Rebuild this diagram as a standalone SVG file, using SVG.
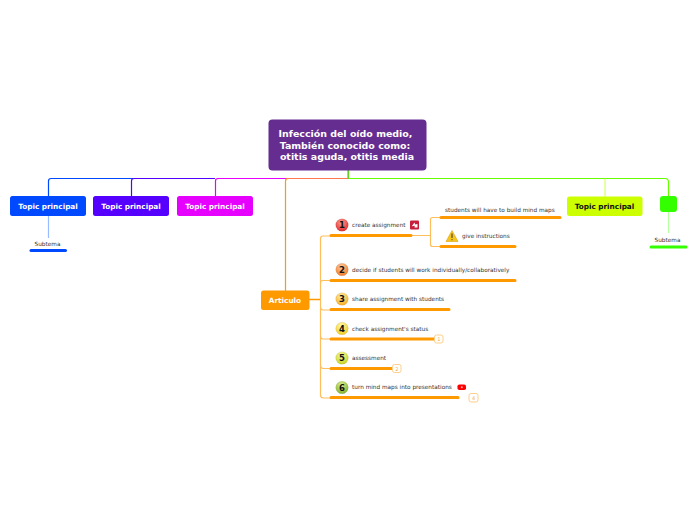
<svg xmlns="http://www.w3.org/2000/svg" width="696" height="520" viewBox="0 0 696 520">
<style>
text{font-family:"DejaVu Sans",Verdana,sans-serif}
.t{font-size:7.300px;font-weight:700;fill:#fff;text-anchor:middle}
.s{font-size:5.760px;fill:#333}
.n{font-size:8.500px;font-weight:700;fill:#111;text-anchor:middle}
.b{font-size:5px;fill:#f0b050;text-anchor:middle}
.c{fill:none;stroke-width:1.200}
.u{stroke-width:3;stroke-linecap:round;fill:none}
.o{stroke:#ff9900}
.lo{stroke:#ffbe5c}
.bd{fill:#fff;stroke:#ffcf8a;stroke-width:1}
.ci{stroke:#0000001f;stroke-width:.5}
</style>
<defs>
<radialGradient id="g1" cx=".45" cy=".3" r=".75"><stop offset="0" stop-color="#ff9c8c"/><stop offset="1" stop-color="#e0242a"/></radialGradient>
<radialGradient id="g2" cx=".45" cy=".3" r=".75"><stop offset="0" stop-color="#ffcaa0"/><stop offset="1" stop-color="#f0761c"/></radialGradient>
<radialGradient id="g3" cx=".45" cy=".3" r=".75"><stop offset="0" stop-color="#fff0a8"/><stop offset="1" stop-color="#f7a81a"/></radialGradient>
<radialGradient id="g4" cx=".45" cy=".3" r=".75"><stop offset="0" stop-color="#fffab0"/><stop offset="1" stop-color="#f0c814"/></radialGradient>
<radialGradient id="g5" cx=".45" cy=".3" r=".75"><stop offset="0" stop-color="#f8faa0"/><stop offset="1" stop-color="#c4d018"/></radialGradient>
<radialGradient id="g6" cx=".45" cy=".3" r=".75"><stop offset="0" stop-color="#dcef90"/><stop offset="1" stop-color="#7cae26"/></radialGradient>
</defs>
<g id="connectors">
<path class="c" stroke="#0049ff" d="M133 178.500H51Q48.500 178.500 48.500 181V196"/>
<path class="c" stroke="#5500ff" d="M215 178.500H134Q131.500 178.500 131.500 181V196"/>
<path class="c" stroke="#e600ff" d="M288 178.500H218Q215.500 178.500 215.500 181V196"/>
<path class="c" stroke="#ff9900" d="M288 178.500Q285.500 178.500 285.500 181V291"/>
<path class="c" stroke="#ff7a50" d="M287 178.500H348"/>
<path class="c" stroke="#66ff00" d="M348 178.500H665Q668.500 178.500 668.500 182V196"/>
<path d="M348.300 170V179" fill="none" stroke="#66cc22" stroke-width="1.800"/>
<path class="c" stroke="#d4ff66" d="M605 178.500V197"/>
<path class="c" stroke="#99bbff" d="M48.500 216V238"/>
<path class="c" stroke="#b6ffa0" d="M668.500 212V233"/>
<path d="M309 299.500H320.500" fill="none" stroke="#ff9900" stroke-width="1.500"/>
<path class="c lo" d="M330 236H323Q320.500 236 320.500 238.500V395Q320.500 398 323.500 398H330"/>
<path class="c lo" d="M320.500 283Q320.500 280.500 323 280.500H330M320.500 307Q320.500 310 323 310H330M320.500 336Q320.500 339 323 339H330M320.500 365Q320.500 368.500 323.500 368.500H330"/>
<path class="c lo" d="M412 235.500H430.500M440 217.500H432.500Q430.500 217.500 430.500 219.500V244.500Q430.500 246.500 432.500 246.500H440"/>
<path class="u o" d="M331 235.500H411M331 280.500H515M331 309.500H449M331 339H434M331 368.500H392M331 397.500H458M441 217.500H560M441 246.500H515"/>
<path class="u" stroke="#0049ff" d="M31 250.500H65.500"/>
<path class="u" stroke="#33ff00" d="M651 247H686"/>
</g>
<g id="root"><rect x="268.500" y="119.500" width="158" height="51" rx="4" fill="#662d91"/>
<text x="345.500" y="137" font-size="9.450" font-weight="700" fill="#fff" text-anchor="middle">Infección del oído medio,</text>
<text x="345" y="149" font-size="9.450" font-weight="700" fill="#fff" text-anchor="middle">También conocido como:</text>
<text x="347" y="160" font-size="9.450" font-weight="700" fill="#fff" text-anchor="middle">otitis aguda, otitis media</text></g>
<g id="topic1"><rect x="10" y="196" width="76" height="20" rx="2.500" fill="#0049ff"/><text class="t" x="48" y="209">Topic principal</text></g>
<g id="topic2"><rect x="93" y="196" width="76" height="20" rx="2.500" fill="#5500ff"/><text class="t" x="131" y="209">Topic principal</text></g>
<g id="topic3"><rect x="177" y="196" width="76" height="20" rx="2.500" fill="#e600ff"/><text class="t" x="215" y="209">Topic principal</text></g>
<g id="topic4"><rect x="567" y="196.500" width="75.500" height="19.500" rx="2.500" fill="#ccff00"/><text class="t" x="604.500" y="209" style="fill:#111">Topic principal</text></g>
<g id="topic5"><rect x="660" y="196" width="17" height="16" rx="3" fill="#33ff00"/></g>
<g id="sub1"><text class="s" x="47.500" y="246" text-anchor="middle">Subtema</text></g>
<g id="sub2"><text class="s" x="667.500" y="242" text-anchor="middle">Subtema</text></g>
<g id="articulo"><rect x="261" y="290.500" width="48.500" height="19.500" rx="2.500" fill="#ff9900"/><text class="t" x="285" y="303">Articulo</text></g>
<g id="item1"><circle class="ci" cx="342" cy="225" r="6.300" fill="url(#g1)"/><text class="n" x="342" y="228.200">1</text><text class="s" x="352" y="227">create assignment</text>
<rect x="410" y="220.500" width="9" height="9" rx="1" fill="#c8203a"/><path d="M411.800 226.200L414.500 222.500L415.500 225.500ZM415 224.500L417.500 224V227.500H414.500Z" fill="#fff"/></g>
<g id="item2"><circle class="ci" cx="342" cy="269.500" r="6.300" fill="url(#g2)"/><text class="n" x="342" y="272.700">2</text><text class="s" x="352" y="272">decide if students will work individually/collaboratively</text></g>
<g id="item3"><circle class="ci" cx="342" cy="299" r="6.300" fill="url(#g3)"/><text class="n" x="342" y="302.200">3</text><text class="s" x="352" y="301">share assignment with students</text></g>
<g id="item4"><circle class="ci" cx="342" cy="328.500" r="6.300" fill="url(#g4)"/><text class="n" x="342" y="331.700">4</text><text class="s" x="352" y="331">check assignment's status</text>
<rect class="bd" x="434.500" y="335" width="8.500" height="8" rx="2"/><text class="b" x="438.800" y="341">1</text></g>
<g id="item5"><circle class="ci" cx="342" cy="358" r="6.300" fill="url(#g5)"/><text class="n" x="342" y="361.200">5</text><text class="s" x="352" y="360">assessment</text>
<rect class="bd" x="392.500" y="364.500" width="8.500" height="8" rx="2"/><text class="b" x="396.800" y="370.500">2</text></g>
<g id="item6"><circle class="ci" cx="342" cy="387.500" r="6.300" fill="url(#g6)"/><text class="n" x="342" y="390.700">6</text><text class="s" x="352" y="389">turn mind maps into presentations</text>
<rect x="457.500" y="384.500" width="8.500" height="5.500" rx="1.800" fill="#f00"/><circle cx="461.800" cy="387.200" r="1" fill="#ffb0b0"/>
<rect class="bd" x="469" y="393.500" width="9" height="8.500" rx="2"/><text class="b" x="473.500" y="399.800">4</text></g>
<g id="sub3"><text class="s" x="445" y="212">students will have to build mind maps</text></g>
<g id="sub4"><path d="M452 230.500L458 241.500H446Z" fill="#f6c51c" stroke="#e0a010" stroke-width=".6" stroke-linejoin="round"/><path d="M452 233.500V238M452 239.200V240.200" stroke="#333" stroke-width="1" fill="none"/><text class="s" x="462" y="238">give instructions</text></g>
</svg>
